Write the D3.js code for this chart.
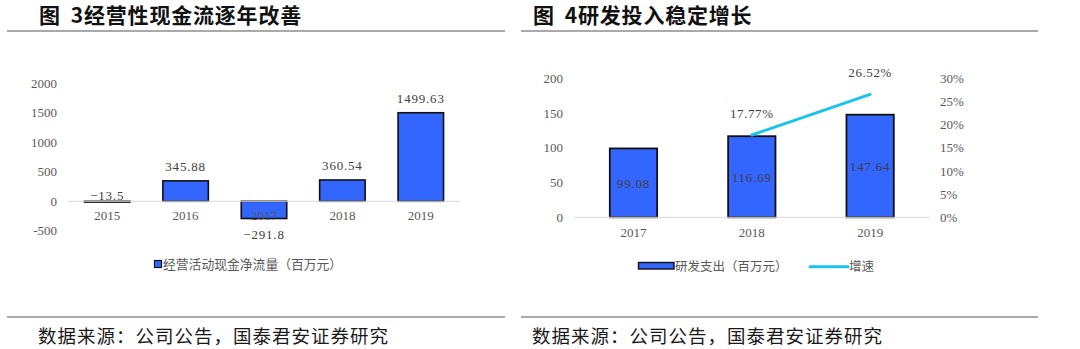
<!DOCTYPE html>
<html>
<head>
<meta charset="utf-8">
<script src="https://cdn.jsdelivr.net/npm/d3@7"></script>
<style>
  html, body { margin: 0; padding: 0; background: #fff; }
  svg { display: block; }
</style>
</head>
<body>
<svg id="chart" width="1080" height="349"></svg>
<script>
// Figure 3: operating cash flow (million yuan)
const cashYears = ["2015", "2016", "2017", "2018", "2019"];
const cashValues = [-13.5, 345.88, -291.8, 360.54, 1499.63];
const cashTicks = [-500, 0, 500, 1000, 1500, 2000];
const cashLegend = "经营活动现金净流量（百万元）";

// Figure 4: R&D spending (million yuan) and growth rate
const rdYears = ["2017", "2018", "2019"];
const rdValues = [99.08, 116.69, 147.64];
const rdGrowth = [null, 0.1777, 0.2652];
const rdLeftTicks = [0, 50, 100, 150, 200];
const rdRightTicks = [0, 0.05, 0.10, 0.15, 0.20, 0.25, 0.30];
const rdLegendBar = "研发支出（百万元）";
const rdLegendLine = "增速";

const titleLabels = ["图", "图"];
const titles = ["3经营性现金流逐年改善", "4研发投入稳定增长"];
const sourceText = "数据来源：公司公告，国泰君安证券研究";

const svg = d3.select("#chart");
const BLUE = "#3366FF";
const CYAN = "#19C3EE";
const AXIS_TXT = "#595959";
const VAL_TXT = "#404040";
const NUM_FONT = "'Liberation Serif', 'Times New Roman', serif";
const CJK_FONT = "'Noto Sans CJK SC', sans-serif";

// ---------- headers, rules and source lines ----------
const panels = [{x0: 7, x1: 505, tx: 39}, {x0: 521, x1: 1038, tx: 533}];
panels.forEach((p, i) => {
  const t = svg.append("text")
    .attr("x", p.tx).attr("y", 23)
    .attr("font-family", CJK_FONT).attr("font-weight", 700)
    .attr("font-size", 21).attr("fill", "#111")
    .attr("letter-spacing", 0.8);
  t.append("tspan").text(titleLabels[i]);
  t.append("tspan").attr("dx", 10).text(titles[i]);
  [31, 317].forEach(yy => svg.append("line")
    .attr("x1", p.x0).attr("x2", p.x1).attr("y1", yy).attr("y2", yy)
    .attr("stroke", "#555").attr("stroke-width", 1.2));
  svg.append("text")
    .attr("x", p.tx - 1).attr("y", 343)
    .attr("font-family", CJK_FONT).attr("font-size", 18.5)
    .attr("fill", "#1a1a1a").attr("letter-spacing", 1)
    .text(sourceText);
});

// ---------- Figure 3 ----------
{
  const x = d3.scaleBand().domain(cashYears).range([68, 460])
    .paddingInner(0.42).paddingOuter(0.21);
  const y = d3.scaleLinear().domain([-500, 2000]).range([230.8, 83.2]);
  const g = svg.append("g");

  // y axis labels only
  const yAxis = d3.axisLeft(y).tickValues(cashTicks).tickSize(0).tickPadding(0)
    .tickFormat(d => String(d));
  g.append("g").attr("transform", "translate(57,0)").call(yAxis)
    .call(s => s.select(".domain").remove())
    .call(s => s.selectAll("text").attr("font-family", NUM_FONT)
      .attr("font-size", 13).attr("fill", AXIS_TXT));

  const data = cashYears.map((c, i) => ({c, v: cashValues[i]}));
  g.selectAll("rect.bar").data(data).join("rect")
    .attr("class", "bar")
    .attr("x", d => x(d.c))
    .attr("width", x.bandwidth())
    .attr("y", d => Math.min(y(d.v), y(0)))
    .attr("height", d => Math.abs(y(d.v) - y(0)))
    .attr("fill", BLUE).attr("stroke", "#111").attr("stroke-width", 1.6);

  // zero baseline
  g.append("line").attr("x1", 68).attr("x2", 460)
    .attr("y1", y(0)).attr("y2", y(0))
    .attr("stroke", "#d9d9d9").attr("stroke-width", 1);

  // category labels under the baseline
  g.selectAll("text.cat").data(cashYears).join("text")
    .attr("class", "cat")
    .attr("x", d => x(d) + x.bandwidth() / 2).attr("y", y(0) + 19)
    .attr("text-anchor", "middle").attr("font-family", NUM_FONT)
    .attr("font-size", 13).attr("fill", AXIS_TXT).text(d => d);

  // value labels
  g.selectAll("text.val").data(data).join("text")
    .attr("class", "val")
    .attr("x", d => x(d.c) + x.bandwidth() / 2)
    .attr("y", d => {
      if (d.v >= 0) return y(d.v) - 10;
      if (y(d.v) - y(0) < 10) return y(0) - 1.5;
      return y(d.v) + 20;
    })
    .attr("text-anchor", "middle").attr("font-family", NUM_FONT)
    .attr("font-size", 13).attr("letter-spacing", 0.8).attr("fill", VAL_TXT)
    .text(d => String(d.v).replace("-", "\u2212"));

  // legend
  const lg = g.append("g");
  lg.append("rect").attr("x", 154.5).attr("y", 260.5).attr("width", 7).attr("height", 7)
    .attr("fill", BLUE).attr("stroke", "#111").attr("stroke-width", 1.2);
  lg.append("text").attr("x", 163).attr("y", 268.5)
    .attr("font-family", CJK_FONT).attr("font-size", 12.8)
    .attr("fill", AXIS_TXT).text(cashLegend);
}

// ---------- Figure 4 ----------
{
  const x = d3.scaleBand().domain(rdYears).range([574.3, 929.3])
    .paddingInner(0.6).paddingOuter(0.3);
  const yL = d3.scaleLinear().domain([0, 200]).range([217.3, 78.3]);
  const yR = d3.scaleLinear().domain([0, 0.30]).range([217.3, 78.3]);
  const g = svg.append("g");

  g.append("g").attr("transform", "translate(563,0)")
    .call(d3.axisLeft(yL).tickValues(rdLeftTicks).tickSize(0).tickPadding(0)
      .tickFormat(d => String(d)))
    .call(s => s.select(".domain").remove())
    .call(s => s.selectAll("text").attr("font-family", NUM_FONT)
      .attr("font-size", 13).attr("fill", AXIS_TXT));

  g.append("g").attr("transform", "translate(940,0)")
    .call(d3.axisRight(yR).tickValues(rdRightTicks).tickSize(0).tickPadding(0)
      .tickFormat(d3.format(".0%")))
    .call(s => s.select(".domain").remove())
    .call(s => s.selectAll("text").attr("font-family", NUM_FONT)
      .attr("font-size", 13).attr("fill", AXIS_TXT));

  const data = rdYears.map((c, i) => ({c, v: rdValues[i], gr: rdGrowth[i]}));
  g.selectAll("rect.bar").data(data).join("rect")
    .attr("class", "bar")
    .attr("x", d => x(d.c)).attr("width", x.bandwidth())
    .attr("y", d => yL(d.v)).attr("height", d => yL(0) - yL(d.v))
    .attr("fill", BLUE).attr("stroke", "#111").attr("stroke-width", 1.8);

  g.append("line").attr("x1", 574.3).attr("x2", 929.3)
    .attr("y1", yL(0)).attr("y2", yL(0))
    .attr("stroke", "#d9d9d9").attr("stroke-width", 1);

  g.selectAll("text.cat").data(rdYears).join("text")
    .attr("class", "cat")
    .attr("x", d => x(d) + x.bandwidth() / 2).attr("y", yL(0) + 20)
    .attr("text-anchor", "middle").attr("font-family", NUM_FONT)
    .attr("font-size", 13).attr("fill", AXIS_TXT).text(d => d);

  // bar values, centred inside each bar
  g.selectAll("text.val").data(data).join("text")
    .attr("class", "val")
    .attr("x", d => x(d.c) + x.bandwidth() / 2)
    .attr("y", d => (yL(d.v) + yL(0)) / 2 + 5)
    .attr("text-anchor", "middle").attr("font-family", NUM_FONT)
    .attr("font-size", 13).attr("letter-spacing", 0.8).attr("fill", VAL_TXT)
    .text(d => d3.format(".2f")(d.v));

  // growth line
  const gd = data.filter(d => d.gr != null);
  const line = d3.line()
    .x(d => x(d.c) + x.bandwidth() / 2)
    .y(d => yR(d.gr));
  g.append("path").datum(gd).attr("d", line)
    .attr("fill", "none").attr("stroke", CYAN).attr("stroke-width", 3)
    .attr("stroke-linecap", "round");

  g.selectAll("text.gr").data(gd).join("text")
    .attr("class", "gr")
    .attr("x", d => x(d.c) + x.bandwidth() / 2)
    .attr("y", d => yR(d.gr) - 17)
    .attr("text-anchor", "middle").attr("font-family", NUM_FONT)
    .attr("font-size", 13).attr("letter-spacing", 0.6).attr("fill", VAL_TXT)
    .text(d => d3.format(".2%")(d.gr));

  // legend
  const lg = g.append("g");
  lg.append("rect").attr("x", 638.5).attr("y", 262.5).attr("width", 35.5).attr("height", 6.5)
    .attr("fill", BLUE).attr("stroke", "#111").attr("stroke-width", 1.4);
  lg.append("text").attr("x", 675).attr("y", 270.5)
    .attr("font-family", CJK_FONT).attr("font-size", 12.5)
    .attr("fill", AXIS_TXT).text(rdLegendBar);
  lg.append("line").attr("x1", 810).attr("x2", 848).attr("y1", 266.7).attr("y2", 266.7)
    .attr("stroke", CYAN).attr("stroke-width", 3).attr("stroke-linecap", "round");
  lg.append("text").attr("x", 849).attr("y", 270.5)
    .attr("font-family", CJK_FONT).attr("font-size", 12.5)
    .attr("fill", AXIS_TXT).text(rdLegendLine);
}
</script>
</body>
</html>
